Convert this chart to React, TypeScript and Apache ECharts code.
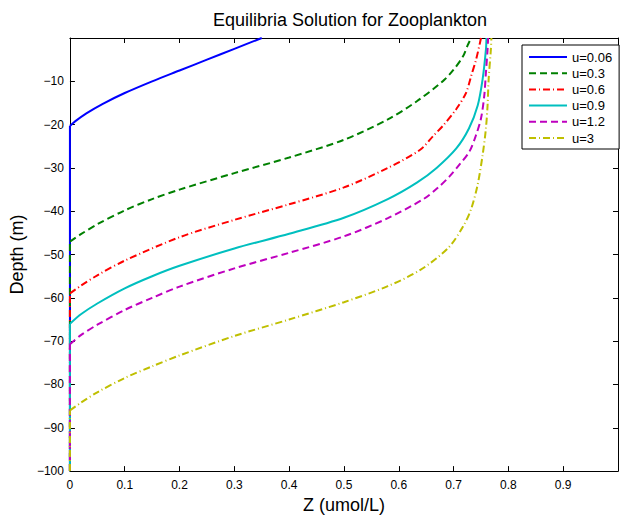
import React, { useEffect, useRef } from "react";
import * as echarts from "echarts";

const seriesNames = ["u=0.06", "u=0.3", "u=0.6", "u=0.9", "u=1.2", "u=3"];

// depth below which Z = 0 for each u
const zeroDepths = [-20.3, -47, -59, -66, -70.7, -86];

const zBlue = [0, 0.01, 0.03, 0.06, 0.1, 0.15, 0.2, 0.25, 0.3, 0.35];
const dBlue = [-20.3, -19.2, -17.4, -15.2, -12.7, -10.0, -7.5, -5.0, -2.5, 0];

const zGreen = [0, 0.02, 0.05, 0.1, 0.15, 0.2, 0.3, 0.4, 0.5, 0.58, 0.633, 0.681, 0.7, 0.717, 0.726, 0.732];
const dGreen = [-47, -45.3, -43, -39.8, -37.2, -35, -31.2, -27.6, -23.5, -18.8, -14.6, -9.9, -7.3, -4.3, -1.6, 0];

const zRed = [0, 0.02, 0.05, 0.1, 0.2, 0.3, 0.4, 0.5, 0.58, 0.639, 0.663, 0.681, 0.705, 0.723, 0.732, 0.741, 0.748, 0.75];
const dRed = [-59, -57.2, -54.8, -51.4, -46, -42, -38.4, -34.5, -30, -25.8, -22.6, -20.2, -16.4, -12.6, -8.8, -5, -1.2, 0];

const zCyan = [0, 0.02, 0.05, 0.1, 0.15, 0.2, 0.3, 0.4, 0.5, 0.58, 0.633, 0.669, 0.705, 0.728, 0.744, 0.753, 0.759, 0.76];
const dCyan = [-66, -63.8, -61.3, -57.8, -55, -52.6, -48.6, -45.2, -41.5, -37.2, -33.4, -30, -25.5, -20.9, -15.6, -9.5, -2.7, 0];

const zMagenta = [0, 0.02, 0.05, 0.1, 0.15, 0.2, 0.3, 0.4, 0.5, 0.58, 0.645, 0.672, 0.693, 0.711, 0.729, 0.741, 0.75, 0.756, 0.759, 0.762, 0.763];
const dMagenta = [-70.7, -68.6, -66.2, -62.8, -60, -57.4, -53.2, -49.6, -45.8, -41.6, -37.2, -34.5, -31.9, -29.2, -26.2, -22.4, -18.6, -13.3, -8, -2.7, 0];

const zYellow = [0, 0.02, 0.05, 0.1, 0.15, 0.2, 0.3, 0.4, 0.5, 0.58, 0.64, 0.69, 0.717, 0.732, 0.744, 0.753, 0.759, 0.762, 0.764, 0.768, 0.769];
const dYellow = [-86, -84.2, -81.8, -78.5, -75.8, -73.3, -68.8, -65, -61, -57.3, -53.5, -48.5, -43.6, -39.5, -33.8, -27, -20.9, -15.6, -9.5, -2.7, 0];

const xTicks = [0, 0.1, 0.2, 0.3, 0.4, 0.5, 0.6, 0.7, 0.8, 0.9];

const zAll = [zBlue, zGreen, zRed, zCyan, zMagenta, zYellow];
const dAll = [dBlue, dGreen, dRed, dCyan, dMagenta, dYellow];
const colors = ["#0000ff", "#008000", "#ff0000", "#00bfbf", "#bf00bf", "#bfbf00"];
const dashes: any[] = ["solid", [7, 4], [7, 3, 1, 3], "solid", [7, 4], [7, 3, 1, 3]];

const FONT = "'Liberation Sans', Arial, Helvetica, sans-serif";

export default function App() {
  const ref = useRef<HTMLDivElement>(null);
  useEffect(() => {
    if (!ref.current) return;
    const chart = echarts.init(ref.current, undefined, { renderer: "svg" });
    const axisCommon = {
      axisLine: { show: true, onZero: false, lineStyle: { color: "#000", width: 1 } },
      axisTick: { show: true, inside: true, length: 5, lineStyle: { color: "#000" } },
      splitLine: { show: false },
    };
    const curveSeries = seriesNames.map((name, i) => ({
      name,
      type: "line",
      data: zAll[i].map((z, k) => [z, dAll[i][k]]),
      showSymbol: false,
      symbol: "none",
      smooth: 0.3,
      clip: false,
      color: colors[i],
      lineStyle: { color: colors[i], width: 2, type: dashes[i] },
      z: 2 + i,
    }));
    const baseSeries = seriesNames.map((name, i) => ({
      name,
      type: "line",
      data: [
        [0, -100],
        [0, zeroDepths[i]],
      ],
      showSymbol: false,
      symbol: "none",
      clip: false,
      color: colors[i],
      lineStyle: { color: colors[i], width: 2, type: dashes[i] },
      z: 2 + i,
    }));
    chart.setOption({
      animation: false,
      backgroundColor: "#fff",
      textStyle: { fontFamily: FONT },
      title: {
        text: "Equilibria Solution for Zooplankton",
        left: 345,
        textAlign: "center",
        top: 6,
        textStyle: { fontFamily: FONT, fontSize: 18, fontWeight: "normal", color: "#000" },
      },
      grid: { left: 68, top: 38, width: 557, height: 439, containLabel: false },
      legend: {
        orient: "vertical",
        left: 522,
        top: 45,
        padding: [5, 7, 4, 6],
        itemWidth: 38,
        itemHeight: 14,
        itemGap: 2.2,
        backgroundColor: "#fff",
        borderColor: "#000",
        borderWidth: 1,
        borderRadius: 0,
        itemStyle: { opacity: 0 },
        textStyle: { fontFamily: FONT, fontSize: 13, color: "#000", lineHeight: 14 },
        data: seriesNames,
      },
      xAxis: [
        {
          type: "value",
          min: 0,
          max: 1,
          interval: 0.1,
          position: "bottom",
          ...axisCommon,
          name: "Z (umol/L)",
          nameLocation: "middle",
          nameGap: 22,
          nameTextStyle: { fontFamily: FONT, fontSize: 18, color: "#000" },
          axisLabel: {
            color: "#000",
            fontSize: 12,
            fontFamily: FONT,
            margin: 8,
            formatter: (v: number) => {
              const r = Math.round(v * 10) / 10;
              return xTicks.some((t) => Math.abs(t - r) < 1e-9) ? String(r) : "";
            },
          },
        },
        {
          type: "value",
          min: 0,
          max: 1,
          interval: 0.1,
          position: "top",
          ...axisCommon,
          axisLabel: { show: false },
        },
      ],
      yAxis: [
        {
          type: "value",
          min: -100,
          max: 0,
          interval: 10,
          position: "left",
          ...axisCommon,
          name: "Depth (m)",
          nameLocation: "middle",
          nameGap: 35,
          nameTextStyle: { fontFamily: FONT, fontSize: 18, color: "#000" },
          axisLabel: {
            color: "#000",
            fontSize: 12,
            fontFamily: FONT,
            margin: 6,
            formatter: (v: number) => (v === 0 ? "" : v < 0 ? "\u2212" + Math.abs(v) : String(v)),
          },
        },
        {
          type: "value",
          min: -100,
          max: 0,
          interval: 10,
          position: "right",
          ...axisCommon,
          axisLabel: { show: false },
        },
      ],
      series: [...curveSeries, ...baseSeries],
    });
    return () => chart.dispose();
  }, []);
  return (
    <div
      ref={ref}
      style={{ position: "fixed", left: 0, top: 0, width: 621, height: 519 }}
    />
  );
}
